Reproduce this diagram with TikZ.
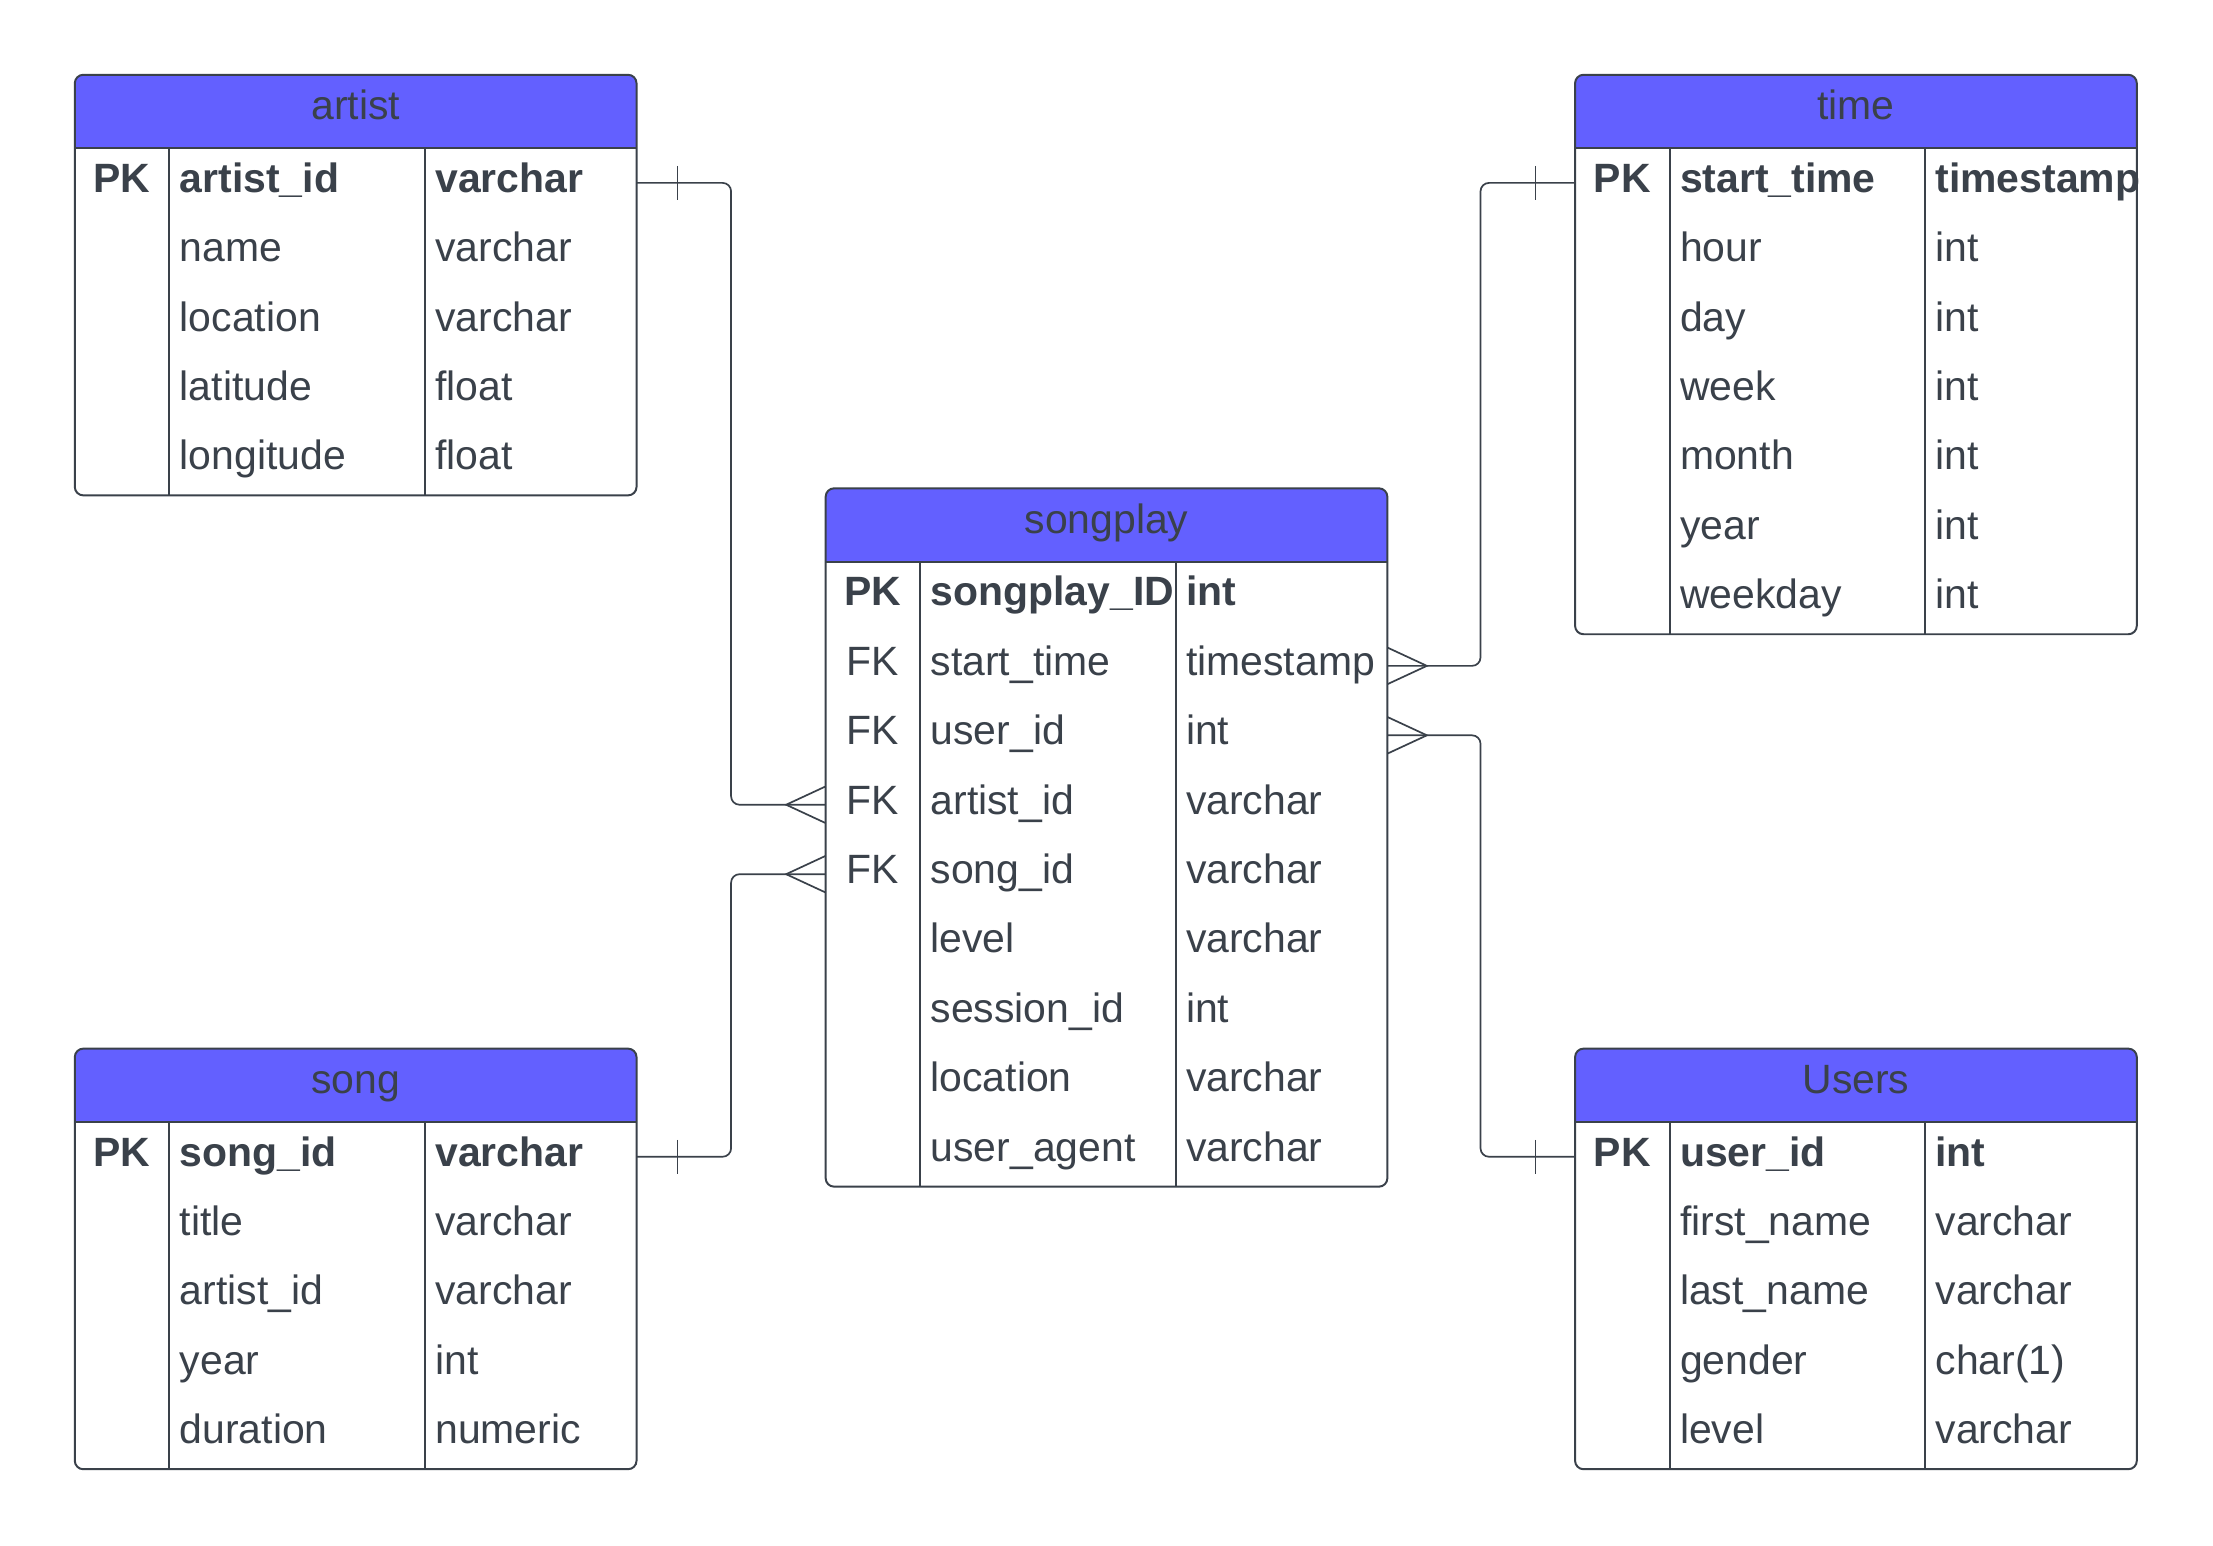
\documentclass[tikz,border=0pt]{standalone}
\usepackage{fontspec}
\setmainfont{Liberation Sans}
\usetikzlibrary{calc}
\definecolor{hdr}{RGB}{99,96,255}
\definecolor{ink}{RGB}{58,65,74}
\tikzset{
  tline/.style={draw=ink, line width=0.7pt},
  conn/.style={draw=ink, line width=0.6pt, rounded corners=3pt},
  footline/.style={draw=ink, line width=0.6pt},
  tickline/.style={draw=ink, line width=0.45pt},
  txt/.style={inner sep=0pt, text=ink, font=\fontsize{14.5}{17}\selectfont},
  nf/.style={},
  bf/.style={font=\fontsize{14.5}{17}\selectfont\bfseries},
  crowL/.pic={\draw[footline] (0,-13) -- (-28,0) -- (0,13);},
  crowR/.pic={\draw[footline] (0,-13) -- (28,0) -- (0,13);},
}
\newcommand\ertable[6]{%
  \begin{scope}[shift={(#2,#3)}]
    \pgfmathsetmacro\tbot{52+49.2*#4}
    \fill[white, rounded corners=3pt] (0,0) rectangle (398,\tbot);
    \begin{scope}
      \clip[rounded corners=3pt] (0,0) rectangle (398,\tbot);
      \fill[hdr] (0,0) rectangle (398,52);
    \end{scope}
    \draw[tline] (0,52) -- (398,52);
    \draw[tline] (67,52) -- (67,\tbot);
    \draw[tline] (248,52) -- (248,\tbot);
    \draw[tline, rounded corners=3pt] (0,0) rectangle (398,\tbot);
    \node[txt, anchor=base] (#1-title) at (199,32) {#5};
    \foreach \k/\f/\t/\s [count=\i from 0] in {#6} {
      \pgfmathsetmacro\yb{52+49.2*\i+31.2}
      \pgfmathsetmacro\yc{52+49.2*\i+24.6}
      \node[txt,\s,anchor=base] (#1-k\i) at (33.5,\yb) {\k};
      \node[txt,\s,anchor=base west] (#1-f\i) at (74,\yb) {\f};
      \node[txt,\s,anchor=base west] (#1-t\i) at (255,\yb) {\t};
      \coordinate (#1-L\i) at (0,\yc);
      \coordinate (#1-R\i) at (398,\yc);
    }
  \end{scope}
}
\begin{document}
\begin{tikzpicture}[x=0.5pt, y=-0.5pt]
  \fill[white] (0,0) rectangle (1568,1095);
  \useasboundingbox (0,0) rectangle (1568,1095);

  \ertable{artist}{53}{53}{5}{artist}{PK/artist\_id/varchar/bf, {}/name/varchar/nf, {}/location/varchar/nf, {}/latitude/float/nf, {}/longitude/float/nf}
  \ertable{time}{1116}{53}{7}{time}{PK/start\_time/timestamp/bf, {}/hour/int/nf, {}/day/int/nf, {}/week/int/nf, {}/month/int/nf, {}/year/int/nf, {}/weekday/int/nf}
  \ertable{songplay}{585}{346}{9}{songplay}{PK/songplay\_ID/int/bf, FK/start\_time/timestamp/nf, FK/user\_id/int/nf, FK/artist\_id/varchar/nf, FK/song\_id/varchar/nf, {}/level/varchar/nf, {}/session\_id/int/nf, {}/location/varchar/nf, {}/user\_agent/varchar/nf}
  \ertable{song}{53}{743}{5}{song}{PK/song\_id/varchar/bf, {}/title/varchar/nf, {}/artist\_id/varchar/nf, {}/year/int/nf, {}/duration/numeric/nf}
  \ertable{users}{1116}{743}{5}{Users}{PK/user\_id/int/bf, {}/first\_name/varchar/nf, {}/last\_name/varchar/nf, {}/gender/char(1)/nf, {}/level/varchar/nf}

  \coordinate (busL) at (518,0);
  \coordinate (busR) at (1049,0);

  \draw[conn] (artist-R0) -- (artist-R0 -| busL) |- (songplay-L3);
  \draw[conn] (song-R0) -- (song-R0 -| busL) |- (songplay-L4);
  \draw[conn] (time-L0) -- (time-L0 -| busR) |- (songplay-R1);
  \draw[conn] (users-L0) -- (users-L0 -| busR) |- (songplay-R2);

  \draw[tickline] ($(artist-R0)+(29,-12)$) -- ($(artist-R0)+(29,12)$);
  \draw[tickline] ($(song-R0)+(29,-12)$) -- ($(song-R0)+(29,12)$);
  \draw[tickline] ($(time-L0)+(-28,-12)$) -- ($(time-L0)+(-28,12)$);
  \draw[tickline] ($(users-L0)+(-28,-12)$) -- ($(users-L0)+(-28,12)$);

  \pic at (songplay-L3) {crowL};
  \pic at (songplay-L4) {crowL};
  \pic at (songplay-R1) {crowR};
  \pic at (songplay-R2) {crowR};
\end{tikzpicture}
\end{document}
